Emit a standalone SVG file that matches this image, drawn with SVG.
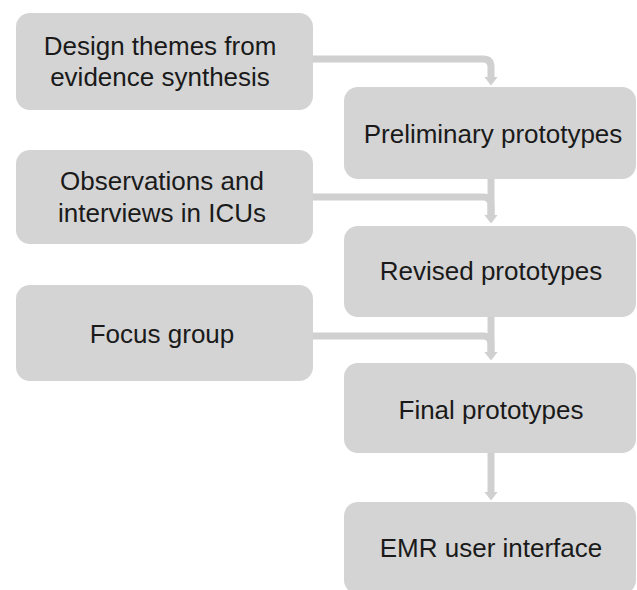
<svg xmlns="http://www.w3.org/2000/svg" width="637" height="590" viewBox="0 0 637 590">
  <defs>
    <style>
      .box { fill: #d4d4d4; }
      .lbl { font-family: "Liberation Sans", Arial, sans-serif; font-size: 26px; fill: #1a1a1a; text-anchor: middle; }
      .conn { fill: none; stroke: #d0d0d0; stroke-width: 7; }
    </style>
    <marker id="arrow" markerUnits="userSpaceOnUse" markerWidth="9" markerHeight="14" viewBox="0 0 9 14" refX="0.5" refY="7" orient="auto">
      <path d="M0,0 L9,7 L0,14 z" fill="#d0d0d0"/>
    </marker>
  </defs>
  <rect width="637" height="590" fill="#ffffff"/>

  <g id="connectors">
    <path class="conn" d="M310,59 H483 Q491,59 491,67 V77" marker-end="url(#arrow)"/>
    <path class="conn" d="M491,176 V215" marker-end="url(#arrow)"/>
    <path class="conn" d="M310,197 H483 Q491,197 491,205 V215"/>
    <path class="conn" d="M491,314 V352" marker-end="url(#arrow)"/>
    <path class="conn" d="M310,336 H483 Q491,336 491,344 V352"/>
    <path class="conn" d="M491,450 V492" marker-end="url(#arrow)"/>
  </g>

  <g id="design-themes">
    <rect class="box" x="16" y="13" width="297" height="97" rx="14"/>
    <text class="lbl" x="160" y="55">Design themes from</text>
    <text class="lbl" x="160" y="86">evidence synthesis</text>
  </g>
  <g id="preliminary">
    <rect class="box" x="344" y="87" width="292" height="92" rx="14"/>
    <text class="lbl" x="493" y="143">Preliminary prototypes</text>
  </g>
  <g id="observations">
    <rect class="box" x="16" y="150" width="297" height="94" rx="14"/>
    <text class="lbl" x="162" y="190">Observations and</text>
    <text class="lbl" x="162" y="222">interviews in ICUs</text>
  </g>
  <g id="revised">
    <rect class="box" x="344" y="226" width="292" height="91" rx="14"/>
    <text class="lbl" x="491" y="280">Revised prototypes</text>
  </g>
  <g id="focus-group">
    <rect class="box" x="16" y="285" width="297" height="96" rx="14"/>
    <text class="lbl" x="162" y="343">Focus group</text>
  </g>
  <g id="final">
    <rect class="box" x="344" y="363" width="292" height="90" rx="14"/>
    <text class="lbl" x="491" y="419">Final prototypes</text>
  </g>
  <g id="emr">
    <rect class="box" x="344" y="502" width="292" height="92" rx="14"/>
    <text class="lbl" x="491" y="557">EMR user interface</text>
  </g>
</svg>
